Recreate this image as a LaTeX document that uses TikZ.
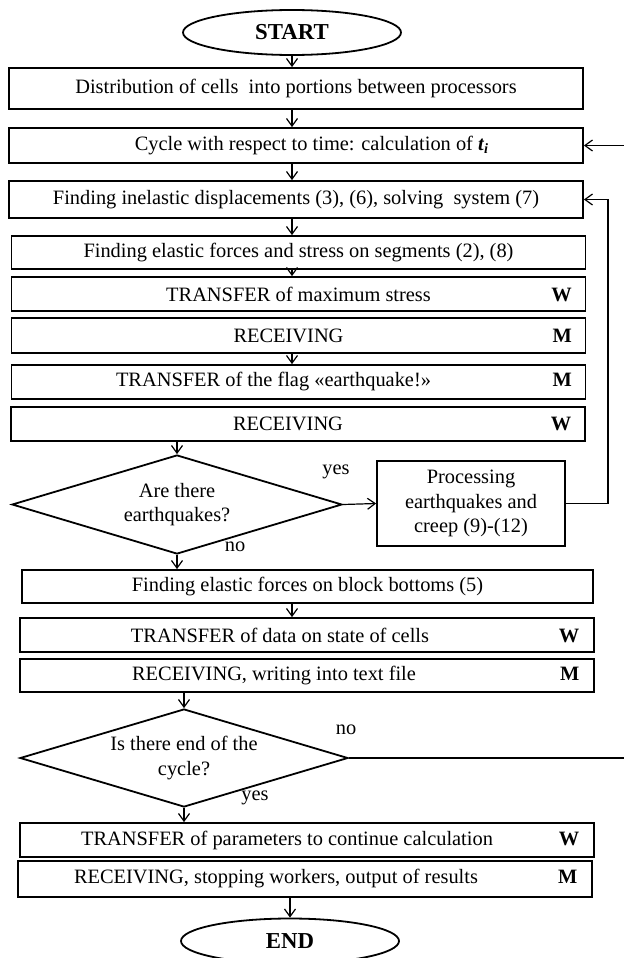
\documentclass[tikz,border=0pt]{standalone}
\usepackage{fontspec}
\setmainfont{Liberation Serif}
\usetikzlibrary{shapes.geometric,positioning,arrows.meta}

\tikzset{
  block/.style={draw, rectangle, line width=0.9pt, inner sep=0pt, minimum width=287pt},
  term/.style={draw, ellipse, line width=0.9pt, inner sep=0pt, minimum width=109pt,
    minimum height=22.5pt, font=\fontsize{11.4}{13}\selectfont\bfseries},
  decision/.style={draw, diamond, line width=0.9pt, inner sep=0pt, aspect=3.3, align=center,
    minimum width=165pt, minimum height=49.5pt},
  tag/.style={inner sep=0pt, anchor=base east, font=\fontsize{10.2}{12}\selectfont\bfseries},
  lbl/.style={inner sep=0pt}
}

\begin{document}
\begin{tikzpicture}[x=0.5pt, y=-0.5pt, line width=0.6pt,
    font=\fontsize{10.2}{12.25}\selectfont, >={Straight Barb[length=3.8pt,width=5.5pt]}]
  \useasboundingbox (0,0) rectangle (624,958);

  \node [term] (start) at (292,32.5) {START};
  \node [block, minimum height=20.5pt] (dist) at (296,88.5) {Distribution of cells\ \ into portions between processors};
  \node [block, minimum height=17.5pt] (cyc) at (296,145.5) {\hspace*{16pt}Cycle with respect to time: calculation of \textbf{\textit{t}}\textsubscript{\textbf{\textit{i}}}};
  \node [block, minimum height=18.5pt] (inel) at (296,199.5) {Finding inelastic displacements (3), (6), solving\ \ system (7)};
  \node [block, minimum height=16.5pt] (elast) at (298.5,252.5) {Finding elastic forces and stress on segments (2), (8)};
  \node [block, minimum height=17pt] (trmax) at (298.5,294) {TRANSFER of maximum stress};
  \node [tag] (trmaxw) at ([xshift=-7pt]trmax.base east) {W};
  \node [block, minimum height=17.5pt] (recv1) at (298.5,335.5) {RECEIVING\hspace*{10pt}};
  \node [tag] (recv1m) at ([xshift=-7pt]recv1.base east) {M};
  \node [block, minimum height=17pt] (flag) at (298.5,382) {TRANSFER of the flag «earthquake!»\hspace*{25pt}};
  \node [tag] (flagm) at ([xshift=-7pt]flag.base east) {M};
  \node [block, minimum height=17pt] (recv2) at (298,424) {RECEIVING\hspace*{10pt}};
  \node [tag] (recv2w) at ([xshift=-7pt]recv2.base east) {W};

  \node [decision] (quake) at (177,504.5) {Are there\\earthquakes?};
  \node [block, align=center, minimum width=94pt, minimum height=42.5pt] (proc) at (471,503.5) {Processing\\earthquakes and\\creep (9)-(12)};
  \node [lbl] (yes1) at (336,472) {yes};
  \node [lbl] (no1) at (235,547) {no};

  \node [block, minimum width=285.5pt, minimum height=16.5pt] (bottom) at (307.5,586.5) {Finding elastic forces on block bottoms (5)};
  \node [block, minimum height=17pt] (trdata) at (307,635) {TRANSFER of data on state of cells\hspace*{27pt}};
  \node [tag] (trdataw) at ([xshift=-7.5pt]trdata.base east) {W};
  \node [block, minimum height=16.5pt] (recv3) at (307,675.5) {RECEIVING, writing into text file\hspace*{33pt}};
  \node [tag] (recv3m) at ([xshift=-7.5pt]recv3.base east) {M};

  \node [decision, minimum width=164pt, minimum height=49pt] (cycend) at (184,758) {Is there end of the\\cycle?};
  \node [lbl] (no2) at (346,730) {no};
  \node [lbl] (yes2) at (255,798) {yes};

  \node [block, minimum height=17pt] (trpar) at (307,840) {TRANSFER of parameters to continue calculation\hspace*{20pt}};
  \node [tag] (trparw) at ([xshift=-7.5pt]trpar.base east) {W};
  \node [block, minimum height=18pt] (recv4) at (305,879) {RECEIVING, stopping workers, output of results\hspace*{29pt}};
  \node [tag] (recv4m) at ([xshift=-7.5pt]recv4.base east) {M};
  \node [term] (stop) at (290,941) {END};

  \draw[->] (start) -- (start |- dist.north);
  \draw[->] (dist.south -| start) -- (cyc.north -| start);
  \draw[->] (cyc.south -| start) -- (inel.north -| start);
  \draw[->] (inel.south -| start) -- (elast.north -| start);
  \draw[->] (elast.south -| start) -- (trmax.north -| start);
  \draw[->] (recv1.south -| start) -- (flag.north -| start);
  \draw[->] (recv2.south -| quake) -- (quake.north);
  \draw[->] (quake.east) -- (proc.west);
  \draw[->] (proc.east) -- ++(42,0) |- (inel.east);
  \draw[->] (quake.south) -- (quake.south |- bottom.north);
  \draw[->] (bottom.south -| start) -- (trdata.north -| start);
  \draw[->] (recv3.south -| cycend) -- (cycend.north);
  \draw[->] (cycend.east) -- ++(277,0) |- (cyc.east);
  \draw[->] (cycend.south) -- (cycend.south |- trpar.north);
  \draw[->] (recv4.south -| stop) -- (stop.north);
\end{tikzpicture}
\end{document}
